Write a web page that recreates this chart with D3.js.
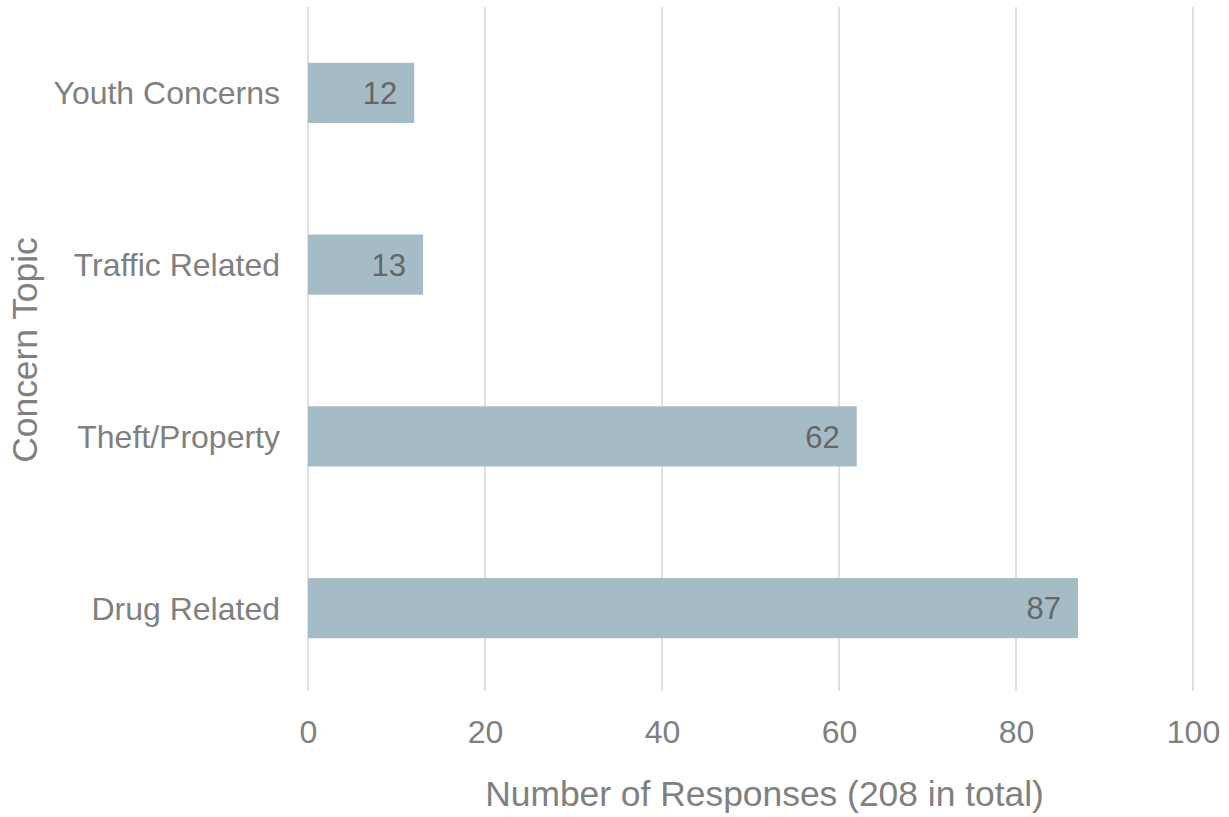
<!DOCTYPE html>
<html>
<head>
<meta charset="utf-8">
<script src="https://cdn.jsdelivr.net/npm/d3@7"></script>
<style>
  html, body { margin: 0; padding: 0; background: #ffffff; }
  svg text { font-family: "Liberation Sans", Arial, sans-serif; }
</style>
</head>
<body>
<svg id="chart" width="1229" height="817"></svg>
<script>
// Concern topics, top to bottom, with their response counts
const categories = ["Youth Concerns", "Traffic Related", "Theft/Property", "Drug Related"];
const responses = [12, 13, 62, 87];
const xTicks = [0, 20, 40, 60, 80, 100];
const xTitle = "Number of Responses (208 in total)";
const yTitle = "Concern Topic";

const data = categories.map((c, i) => ({ topic: c, count: responses[i] }));

const svg = d3.select("#chart");

const x = d3.scaleLinear().domain([0, 100]).range([308, 1193]);
const y = d3.scaleBand()
  .domain(categories)
  .range([7, 694])
  .paddingInner(0.65)
  .paddingOuter(0.325);

// Vertical gridlines
svg.append("g")
  .selectAll("line")
  .data(xTicks)
  .join("line")
  .attr("x1", d => x(d)).attr("x2", d => x(d))
  .attr("y1", 7).attr("y2", 691)
  .attr("stroke", "#e0e0e0")
  .attr("stroke-width", 2);

// Bars
svg.append("g")
  .selectAll("rect")
  .data(data)
  .join("rect")
  .attr("x", x(0))
  .attr("y", d => y(d.topic))
  .attr("width", d => x(d.count) - x(0))
  .attr("height", y.bandwidth())
  .attr("fill", "#a5bbc5");

// Value labels inside bar ends
svg.append("g")
  .selectAll("text")
  .data(data)
  .join("text")
  .attr("x", d => x(d.count) - 17)
  .attr("y", d => y(d.topic) + y.bandwidth() / 2)
  .attr("dy", "0.36em")
  .attr("text-anchor", "end")
  .attr("font-size", 31)
  .attr("fill", "#666666")
  .text(d => d.count);

// X axis tick labels
const xAxis = d3.axisBottom(x).tickValues(xTicks).tickSize(0).tickPadding(0);
const gx = svg.append("g").attr("transform", "translate(0,731)").call(xAxis);
gx.select(".domain").remove();
gx.selectAll("text")
  .attr("dy", "0.36em")
  .attr("font-size", 32)
  .attr("fill", "#808080");

// Y axis category labels
const yAxis = d3.axisLeft(y).tickSize(0).tickPadding(28);
const gy = svg.append("g").attr("transform", `translate(${x(0)},0)`).call(yAxis);
gy.select(".domain").remove();
gy.selectAll("text")
  .attr("dy", "0.36em")
  .attr("font-size", 32)
  .attr("fill", "#808080");

// Axis titles
svg.append("text")
  .attr("x", (486 + 1043) / 2)
  .attr("y", 793)
  .attr("dy", "0.36em")
  .attr("text-anchor", "middle")
  .attr("font-size", 35.4)
  .attr("fill", "#808080")
  .text(xTitle);

svg.append("text")
  .attr("transform", "translate(24,350) rotate(-90)")
  .attr("dy", "0.36em")
  .attr("text-anchor", "middle")
  .attr("font-size", 35.4)
  .attr("fill", "#808080")
  .text(yTitle);
</script>
</body>
</html>
